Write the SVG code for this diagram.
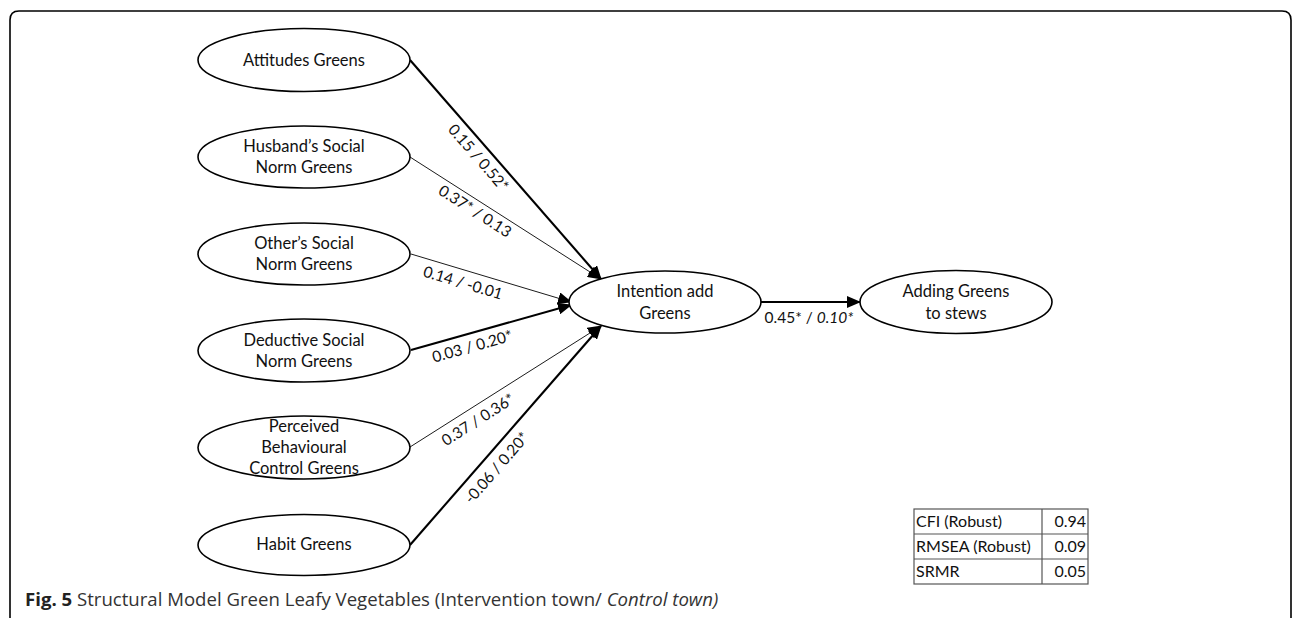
<svg xmlns="http://www.w3.org/2000/svg" width="1292" height="618" viewBox="0 0 1292 618">
<defs>
<style>
.node ellipse{fill:#fff;stroke:#000;stroke-width:1.6}
.node text,.lbl,.tbl text{font-family:Lato,"Liberation Sans",sans-serif;fill:#111;text-anchor:middle}
.node text{font-size:16.5px}
.lbl{font-size:15.5px}
.tbl text{font-size:16px}
.thick{stroke:#000;stroke-width:2.1;fill:none}
.thin{stroke:#000;stroke-width:0.9;fill:none}
.tbl line,.tbl rect{stroke:#555;stroke-width:1.2;fill:none}
.cap{font-family:"Open Sans","Noto Sans",sans-serif;font-size:18.6px;fill:#333}
</style>
<marker id="ah" markerUnits="userSpaceOnUse" markerWidth="14" markerHeight="12" refX="13" refY="6" orient="auto">
<path d="M0,0 L14,6 L0,12 Z" fill="#000"/>
</marker>
</defs>
<rect width="1292" height="618" fill="#fff"/>
<path d="M10,640 L10,20 Q10,11 19,11 L1282,11 Q1291,11 1291,20 L1291,640" fill="none" stroke="#000" stroke-width="1.6"/>

<g id="connectors">
<line class="thick" x1="410" y1="60" x2="601" y2="279" marker-end="url(#ah)"/>
<line class="thin" x1="410" y1="157" x2="601" y2="279" marker-end="url(#ah)"/>
<line class="thin" x1="411" y1="254" x2="571" y2="302" marker-end="url(#ah)"/>
<line class="thick" x1="411" y1="350" x2="571" y2="305" marker-end="url(#ah)"/>
<line class="thin" x1="410" y1="447" x2="601" y2="326" marker-end="url(#ah)"/>
<line class="thick" x1="410" y1="545" x2="601" y2="326" marker-end="url(#ah)"/>
<line class="thick" x1="761" y1="302" x2="860" y2="302" marker-end="url(#ah)"/>
<text class="lbl" transform="translate(410,60) rotate(48.9)" x="118.6" y="18">0.15 / 0.52*</text>
<text class="lbl" transform="translate(410,157) rotate(32.6)" x="84" y="16">0.37* / 0.13</text>
<text class="lbl" transform="translate(411,254) rotate(16.7)" x="58" y="18">0.14 / -0.01</text>
<text class="lbl" transform="translate(411,350) rotate(-15.7)" x="60" y="18.5">0.03 / 0.20*</text>
<text class="lbl" transform="translate(410,447) rotate(-32.6)" x="72" y="19">0.37 / 0.36*</text>
<text class="lbl" transform="translate(410,545) rotate(-48.9)" x="115" y="20">-0.06 / 0.20*</text>
<text class="lbl" x="809" y="323">0.45* / <tspan font-style="italic">0.10*</tspan></text>
</g>

<g id="n-attitudes" class="node"><ellipse cx="304" cy="60" rx="106" ry="31.5"/><text x="304" y="66">Attitudes Greens</text></g>
<g id="n-husband" class="node"><ellipse cx="304" cy="157" rx="106" ry="31"/><text x="304" y="152">Husband’s Social</text><text x="304" y="173">Norm Greens</text></g>
<g id="n-others" class="node"><ellipse cx="304" cy="254" rx="106" ry="31"/><text x="304" y="249">Other’s Social</text><text x="304" y="270">Norm Greens</text></g>
<g id="n-deductive" class="node"><ellipse cx="304" cy="350.5" rx="106" ry="31.5"/><text x="304" y="346">Deductive Social</text><text x="304" y="367">Norm Greens</text></g>
<g id="n-pbc" class="node"><ellipse cx="304" cy="447.5" rx="106" ry="31.5"/><text x="304" y="432">Perceived</text><text x="304" y="453">Behavioural</text><text x="304" y="474">Control Greens</text></g>
<g id="n-habit" class="node"><ellipse cx="304" cy="545" rx="106" ry="30.5"/><text x="304" y="550">Habit Greens</text></g>
<g id="n-intention" class="node"><ellipse cx="665" cy="302" rx="96" ry="31"/><text x="665" y="297">Intention add</text><text x="665" y="319">Greens</text></g>
<g id="n-adding" class="node"><ellipse cx="956" cy="302" rx="96" ry="31.5"/><text x="956" y="297">Adding Greens</text><text x="956" y="319">to stews</text></g>

<g id="fit-table" class="tbl">
<rect x="914" y="509" width="174" height="75"/>
<line x1="914" y1="534" x2="1088" y2="534"/>
<line x1="914" y1="559" x2="1088" y2="559"/>
<line x1="1042" y1="509" x2="1042" y2="584"/>
<text x="916" y="527" style="text-anchor:start">CFI (Robust)</text>
<text x="916" y="552" style="text-anchor:start">RMSEA (Robust)</text>
<text x="916" y="577" style="text-anchor:start">SRMR</text>
<text x="1086" y="527" style="text-anchor:end">0.94</text>
<text x="1086" y="552" style="text-anchor:end">0.09</text>
<text x="1086" y="577" style="text-anchor:end">0.05</text>
</g>

<text class="cap" x="25" y="606"><tspan font-weight="bold" fill="#222">Fig. 5</tspan> Structural Model Green Leafy Vegetables (Intervention town/ <tspan font-style="italic">Control town)</tspan></text>
</svg>
